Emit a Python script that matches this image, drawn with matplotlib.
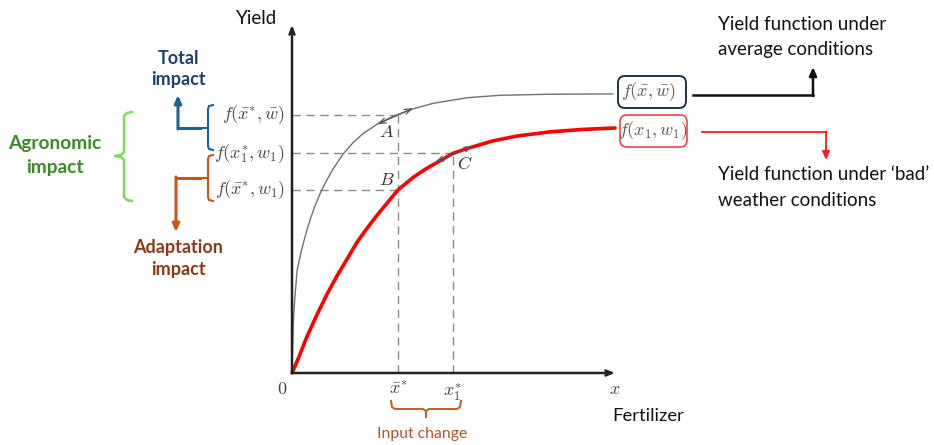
import matplotlib
matplotlib.use("Agg")
import matplotlib.pyplot as plt
from matplotlib.patches import FancyBboxPatch

plt.rcParams['mathtext.fontset'] = 'cm'
plt.rcParams['font.family'] = ['Lato', 'DejaVu Sans']

# ---------------- data ----------------
# yield function under average conditions f(x, w_bar)
avg_x = [0, 0.04, 0.09, 0.16, 0.30, 0.40, 0.46, 0.56, 0.71, 0.90, 1.08, 1.27, 1.58, 1.89,
         2.20, 2.62, 3.03, 3.34, 3.75, 4.37, 5.42, 6.44, 8.00, 9.94]
avg_y = [0, 1.44, 2.19, 2.96, 3.55, 3.90, 4.10, 4.40, 4.80, 5.22, 5.55, 5.86, 6.29, 6.62,
         6.88, 7.14, 7.33, 7.45, 7.59, 7.75, 7.91, 7.98, 8.01, 8.02]
# yield function under 'bad' weather f(x, w1)
bad_x = [0, 0.20, 0.46, 0.77, 1.07, 1.38, 1.69, 2.00, 2.26, 2.63, 3.03, 3.28, 3.75, 4.12,
         4.49, 4.98, 5.42, 6.22, 6.97, 7.99, 9.01, 10.0]
bad_y = [0, 0.43, 1.04, 1.67, 2.24, 2.77, 3.25, 3.74, 4.08, 4.53, 4.98, 5.26, 5.62, 5.85,
         6.05, 6.31, 6.45, 6.67, 6.81, 6.93, 7.00, 7.04]
# optimal inputs
x_opt = [3.29, 4.98]                       # x_bar*, x1*
x_opt_labels = [r'$\bar{x}^{*}$', r'$x_1^{*}$']
# yield levels
y_levels = [7.41, 6.31, 5.26]
y_level_labels = [r'$f(\bar{x}^{*},\bar{w})$', r'$f(x_1^{*},w_1)$', r'$f(\bar{x}^{*},w_1)$']
# tangent segments at A and C
tan_A = ([2.64, 3.75], [7.15, 7.61])
tan_C = ([4.43, 5.60], [6.06, 6.52])

# ---------------- figure ----------------
W, H = 934, 445
fig = plt.figure(figsize=(W / 100, H / 100), dpi=100)
PXX, PXY = 32.3, 34.8          # pixels per data unit
OX, OY = 292, 373              # origin pixel
ax = fig.add_axes([0, 0, 1, 1])
ax.set_xlim(-OX / PXX, (W - OX) / PXX)
ax.set_ylim(-(H - OY) / PXY, OY / PXY)
ax.axis('off')

ov = fig.add_axes([0, 0, 1, 1], facecolor='none')
ov.set_xlim(0, W)
ov.set_ylim(H, 0)
ov.axis('off')

dash_col = '#8a8a8a'
# axes arrows
ax.annotate('', xy=(10.0, 0), xytext=(0, 0),
            arrowprops=dict(arrowstyle='->,head_length=0.45,head_width=0.18', lw=1.8, color='#222222', shrinkA=0, shrinkB=0))
ax.annotate('', xy=(0, 10.0), xytext=(0, 0),
            arrowprops=dict(arrowstyle='->,head_length=0.45,head_width=0.18', lw=1.8, color='#222222', shrinkA=0, shrinkB=0))

# dashed guides
ds = (0, (6, 4))
ax.plot([0, x_opt[0]], [y_levels[0]] * 2, ls=ds, color=dash_col, lw=1)
ax.plot([0, x_opt[1]], [y_levels[1]] * 2, ls=ds, color=dash_col, lw=1)
ax.plot([0, x_opt[0]], [y_levels[2]] * 2, ls=ds, color=dash_col, lw=1)
ax.plot([x_opt[0]] * 2, [0, y_levels[0]], ls=ds, color=dash_col, lw=1)
ax.plot([x_opt[1]] * 2, [0, y_levels[1]], ls=ds, color=dash_col, lw=1)

# curves
ax.plot(avg_x, avg_y, color='#707070', lw=1.0, solid_capstyle='round', solid_joinstyle='round')
ax.plot(bad_x, bad_y, color='#ff0000', lw=2.6, solid_capstyle='round', solid_joinstyle='round')

# tangents
for tx, ty in (tan_A, tan_C):
    ax.annotate('', xy=(tx[1], ty[1]), xytext=(tx[0], ty[0]),
                arrowprops=dict(arrowstyle='<->,head_length=0.5,head_width=0.18', lw=0.9, color='#555555',
                                shrinkA=0, shrinkB=0))

# point labels
ax.text(x_opt[0] - 0.13, y_levels[0] - 0.25, r'$A$', ha='right', va='top', fontsize=13, color='#333333')
ax.text(x_opt[0] - 0.1, y_levels[2] + 0.05, r'$B$', ha='right', va='bottom', fontsize=13, color='#333333')
ax.text(x_opt[1] + 0.12, y_levels[1] - 0.05, r'$C$', ha='left', va='top', fontsize=13, color='#333333')

# tick labels
for lv, lab in zip(y_levels, y_level_labels):
    ax.text(-0.22, lv, lab, ha='right', va='center', fontsize=13, color='#444444')
for xv, lab in zip(x_opt, x_opt_labels):
    ax.text(xv, -0.22, lab, ha='center', va='top', fontsize=13, color='#444444')
ax.text(-0.3, -0.22, r'$0$', ha='center', va='top', fontsize=13, color='#444444')
ax.text(10.0, -0.22, r'$x$', ha='center', va='top', fontsize=13, color='#444444')

# axis titles
ov.text(257, 18, 'Yield', ha='center', va='center', fontsize=13.5, color='#111111')
ov.text(648, 416, 'Fertilizer', ha='center', va='center', fontsize=13.3, color='#111111')

# curve label boxes
ov.add_patch(FancyBboxPatch((618, 76), 68, 32, boxstyle='round,pad=0,rounding_size=7',
                            fc='white', ec='#1e3447', lw=1.4))
ov.text(648, 92, r'$f(\bar{x},\bar{w})$', ha='center', va='center', fontsize=13, color='#555555')
ov.add_patch(FancyBboxPatch((620, 115), 67, 32, boxstyle='round,pad=0,rounding_size=7',
                            fc='white', ec='#e8474a', lw=1.2))
ov.text(653, 131, r'$f(x_1,w_1)$', ha='center', va='center', fontsize=13, color='#555555')

# right-side connectors
ov.plot([693, 813], [95, 95], color='#111111', lw=1.8)
ov.annotate('', xy=(813, 67), xytext=(813, 96),
            arrowprops=dict(arrowstyle='-|>,head_length=0.5,head_width=0.22', lw=1.8, color='#111111', shrinkA=0, shrinkB=0))
ov.plot([702, 826], [132, 132], color='#ff1a1a', lw=1.3)
ov.annotate('', xy=(826, 160), xytext=(826, 131.5),
            arrowprops=dict(arrowstyle='-|>,head_length=0.5,head_width=0.22', lw=1.3, color='#ff1a1a', shrinkA=0, shrinkB=0))
ov.text(718, 25, 'Yield function under', ha='left', va='center', fontsize=13.5, color='#111111')
ov.text(718, 50, 'average conditions', ha='left', va='center', fontsize=13.5, color='#111111')
ov.text(718, 175, 'Yield function under \u2018bad\u2019', ha='left', va='center', fontsize=13.5, color='#111111')
ov.text(718, 200, 'weather conditions', ha='left', va='center', fontsize=13.5, color='#111111')

# left-side brackets and arrows
blue = '#1f6390'
ov.plot([213, 209, 208, 208, 200], [105, 106, 109, 128, 128], color=blue, lw=1.5)
ov.plot([208, 208, 209, 213], [128, 146, 149, 150], color=blue, lw=1.5)
ov.plot([200, 178], [128, 128], color=blue, lw=2.2)
ov.annotate('', xy=(178, 95), xytext=(178, 129),
            arrowprops=dict(arrowstyle='-|>,head_length=0.45,head_width=0.2', lw=2.2, color=blue, shrinkA=0, shrinkB=0))
ov.text(178, 58, 'Total', ha='center', va='center', fontsize=13, fontweight='bold', color='#1f3f6e')
ov.text(178, 80, 'impact', ha='center', va='center', fontsize=13, fontweight='bold', color='#1f3f6e')

orange = '#c8561c'
ov.plot([213, 209, 208, 208, 200], [155, 156, 159, 178, 178], color=orange, lw=1.5)
ov.plot([208, 208, 209, 213], [178, 197, 200, 201], color=orange, lw=1.5)
ov.plot([200, 176], [178, 178], color=orange, lw=2.2)
ov.annotate('', xy=(176, 232), xytext=(176, 177),
            arrowprops=dict(arrowstyle='-|>,head_length=0.45,head_width=0.2', lw=2.2, color=orange, shrinkA=0, shrinkB=0))
ov.text(178, 248, 'Adaptation', ha='center', va='center', fontsize=13, fontweight='bold', color='#8b3a17')
ov.text(178, 269, 'impact', ha='center', va='center', fontsize=13, fontweight='bold', color='#8b3a17')

green = '#7ed957'
ov.plot([132, 127, 124, 124, 121, 115, 121, 124, 124, 127, 132],
        [112, 113, 116, 152, 155, 156, 157, 160, 197, 200, 201], color=green, lw=1.8)
ov.text(55, 144, 'Agronomic', ha='center', va='center', fontsize=13.8, fontweight='bold', color='#3a8a2a')
ov.text(55, 168, 'impact', ha='center', va='center', fontsize=13.8, fontweight='bold', color='#3a8a2a')

# input change brace
ov.plot([391, 392, 395, 423, 426, 426], [401, 407, 409, 409, 411, 417], color='#c8602a', lw=1.5)
ov.plot([426, 429, 457, 460, 461], [411, 409, 409, 407, 401], color='#c8602a', lw=1.5)
ov.text(422, 434, 'Input change', ha='center', va='center', fontsize=11.3, color='#b0552a')

fig.savefig('out.png', dpi=100)
